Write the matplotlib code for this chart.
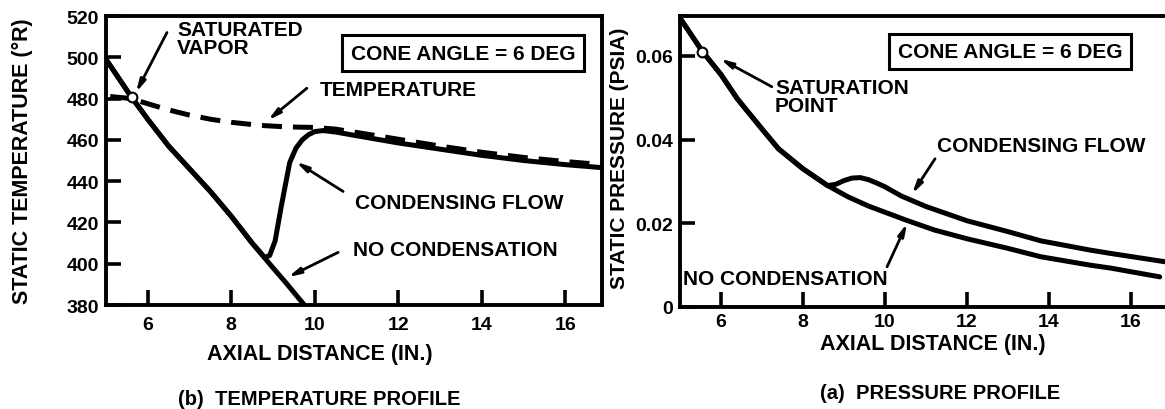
import matplotlib.pyplot as plt

# temperature profile (left)
nc_t_x = [5.0, 5.6, 6.0, 6.5, 7.0, 7.5, 8.0, 8.5, 9.0, 9.3, 9.75]
nc_t_y = [499, 481, 470, 457, 446, 435, 423, 410, 398, 391, 380]
cf_t_x = [5.0, 5.6, 6.0, 6.5, 7.0, 7.5, 8.0, 8.5, 8.8, 8.92, 9.05, 9.2, 9.4, 9.55, 9.7, 9.85, 10.0, 10.2,
          10.5, 11.0, 12.0, 13.0, 14.0, 15.0, 16.0, 16.9]
cf_t_y = [499, 481, 470, 457, 446, 435, 423, 410, 403, 404, 411, 428, 449, 456, 460, 462.5, 464, 464.5,
          463.8, 462, 458.5, 455.5, 452.5, 450, 448, 446.5]
sat_t_x = [5.1, 5.6, 6.0, 6.5, 7.0, 7.5, 8.0, 8.7, 9.3, 10.0, 10.5, 11.0, 12.0, 13.0, 14.0, 15.0, 16.0, 16.9]
sat_t_y = [481, 480, 477.5, 474.5, 472, 470, 468.5, 467, 466.3, 466, 465.2, 463.6, 460.3, 457, 454, 451.5, 449.5, 448]

# pressure profile (right)
nc_p_x = [5.0, 5.55, 6.0, 6.4, 7.0, 7.4, 8.0, 8.6, 9.1, 9.6, 10.5, 11.2, 12.0, 13.0, 13.8, 15.0, 15.5, 16.7]
nc_p_y = [0.069, 0.061, 0.0555, 0.0497, 0.0425, 0.0378, 0.0330, 0.0290, 0.0263, 0.0241, 0.0208, 0.0184,
          0.0163, 0.0140, 0.0120, 0.0100, 0.0093, 0.0072]
cf_p_x = [5.0, 5.55, 6.0, 6.4, 7.0, 7.4, 8.0, 8.6, 8.8, 9.0, 9.2, 9.4, 9.6, 9.8, 10.0, 10.4, 11.0, 12.0,
          13.0, 13.8, 15.0, 15.5, 16.9]
cf_p_y = [0.069, 0.061, 0.0555, 0.0497, 0.0425, 0.0378, 0.0330, 0.0290, 0.0293, 0.0302, 0.0308, 0.0309,
          0.0304, 0.0296, 0.0287, 0.0265, 0.0240, 0.0206, 0.0180, 0.0158, 0.0136, 0.0128, 0.0107]

sat_pt_t = (5.62, 481)
sat_pt_p = (5.54, 0.061)

t_ticks = [380, 400, 420, 440, 460, 480, 500, 520]
p_ticks = [0, 0.02, 0.04, 0.06]
p_tick_labels = ['0', '0.02', '0.04', '0.06']
x_ticks = [6, 8, 10, 12, 14, 16]

plt.rcParams['font.family'] = ['Liberation Sans', 'DejaVu Sans']
plt.rcParams['font.weight'] = 'bold'

W, H = 1165, 410
fig = plt.figure(figsize=(W / 100, H / 100), dpi=100)


def box(l, r, t, b):
    return [l / W, 1 - b / H, (r - l) / W, (b - t) / H]


ax1 = fig.add_axes(box(106, 602, 17, 306))
ax2 = fig.add_axes(box(680, 1172, 17, 308))

lw = 3.6
for ax in (ax1, ax2):
    for s in ax.spines.values():
        s.set_linewidth(2.8)
    ax.tick_params(direction='in', length=11, width=2.6, labelsize=14, pad=5)
    ax.set_xticks(x_ticks)
ax1.tick_params(axis='x', pad=8)
ax2.tick_params(axis='x', pad=4)

arrow = dict(arrowstyle='-|>,head_length=0.7,head_width=0.17', lw=2, color='k', shrinkA=0, shrinkB=0)
txt = dict(fontsize=15, fontweight='bold', color='k')
boxtxt = dict(fontsize=15, fontweight='bold', ha='center', va='center',
              bbox=dict(boxstyle='square,pad=0.4', fc='white', ec='k', lw=2.2))

# left panel
ax1.plot(nc_t_x, nc_t_y, color='k', lw=lw, solid_capstyle='butt')
ax1.plot(cf_t_x, cf_t_y, color='k', lw=lw)
ax1.plot(sat_t_x, sat_t_y, color='k', lw=lw, linestyle=(0, (4, 2.2)))
ax1.plot(*sat_pt_t, marker='o', ms=7, mfc='white', mec='k', mew=1.5, zorder=5)
ax1.set_xlim(5, 16.88)
ax1.set_ylim(380, 520)
ax1.set_yticks(t_ticks)
ax1.set_ylabel('STATIC TEMPERATURE (°R)', fontsize=15.5, fontweight='bold')
ax1.yaxis.set_label_coords((33 - 106) / 496, 0.5)
ax1.set_xlabel('AXIAL DISTANCE (IN.)', fontsize=15.5, fontweight='bold', va='center')
ax1.xaxis.set_label_coords((320 - 106) / 496, -(355 - 306) / 289)

ax1.text(6.7, 518, 'SATURATED\nVAPOR', ha='left', va='top', linespacing=0.9, **txt)
ax1.annotate('', xy=(5.72, 483), xytext=(6.46, 512), arrowprops=arrow)
ax1.text(13.55, 502, 'CONE ANGLE = 6 DEG', **boxtxt)
ax1.text(10.13, 484.6, 'TEMPERATURE', ha='left', va='center', **txt)
ax1.annotate('', xy=(8.88, 469.5), xytext=(9.81, 485), arrowprops=arrow)
ax1.text(10.96, 429.6, 'CONDENSING FLOW', ha='left', va='center', **txt)
ax1.annotate('', xy=(9.55, 449.4), xytext=(10.68, 435), arrowprops=arrow)
ax1.text(10.92, 407, 'NO CONDENSATION', ha='left', va='center', **txt)
ax1.annotate('', xy=(9.36, 393.5), xytext=(10.56, 405.5), arrowprops=arrow)

# right panel
ax2.plot(nc_p_x, nc_p_y, color='k', lw=lw, solid_capstyle='round')
ax2.plot(cf_p_x, cf_p_y, color='k', lw=lw)
ax2.plot(*sat_pt_p, marker='o', ms=7, mfc='white', mec='k', mew=1.5, zorder=5)
ax2.set_xlim(5, 17)
ax2.set_ylim(0, 0.0695)
ax2.set_yticks(p_ticks)
ax2.set_yticklabels(p_tick_labels)
ax2.spines['right'].set_visible(False)
ax2.set_ylabel('STATIC PRESSURE (PSIA)', fontsize=15, fontweight='bold')
ax2.yaxis.set_label_coords((629 - 680) / 492, (308 - 158) / 291)
ax2.set_xlabel('AXIAL DISTANCE (IN.)', fontsize=15.5, fontweight='bold', va='center')
ax2.xaxis.set_label_coords((933 - 680) / 492, -(345 - 308) / 291)

ax2.text(13.05, 0.061, 'CONE ANGLE = 6 DEG', **boxtxt)
ax2.text(7.32, 0.0548, 'SATURATION\nPOINT', ha='left', va='top', linespacing=0.95, **txt)
ax2.annotate('', xy=(5.98, 0.0593), xytext=(7.24, 0.0526), arrowprops=arrow)
ax2.text(11.27, 0.0385, 'CONDENSING FLOW', ha='left', va='center', **txt)
ax2.annotate('', xy=(10.66, 0.0270), xytext=(11.22, 0.0354), arrowprops=arrow)
ax2.text(5.07, 0.0069, 'NO CONDENSATION', ha='left', va='center', **txt)
ax2.annotate('', xy=(10.54, 0.0200), xytext=(10.05, 0.0096), arrowprops=arrow)

fig.text(319 / W, 1 - 400 / H, '(b)  TEMPERATURE PROFILE', ha='center', va='center', fontsize=14.5,
         fontweight='bold')
fig.text(940 / W, 1 - 394 / H, '(a)  PRESSURE PROFILE', ha='center', va='center', fontsize=14.5,
         fontweight='bold')

fig.savefig('out.png', dpi=100)
